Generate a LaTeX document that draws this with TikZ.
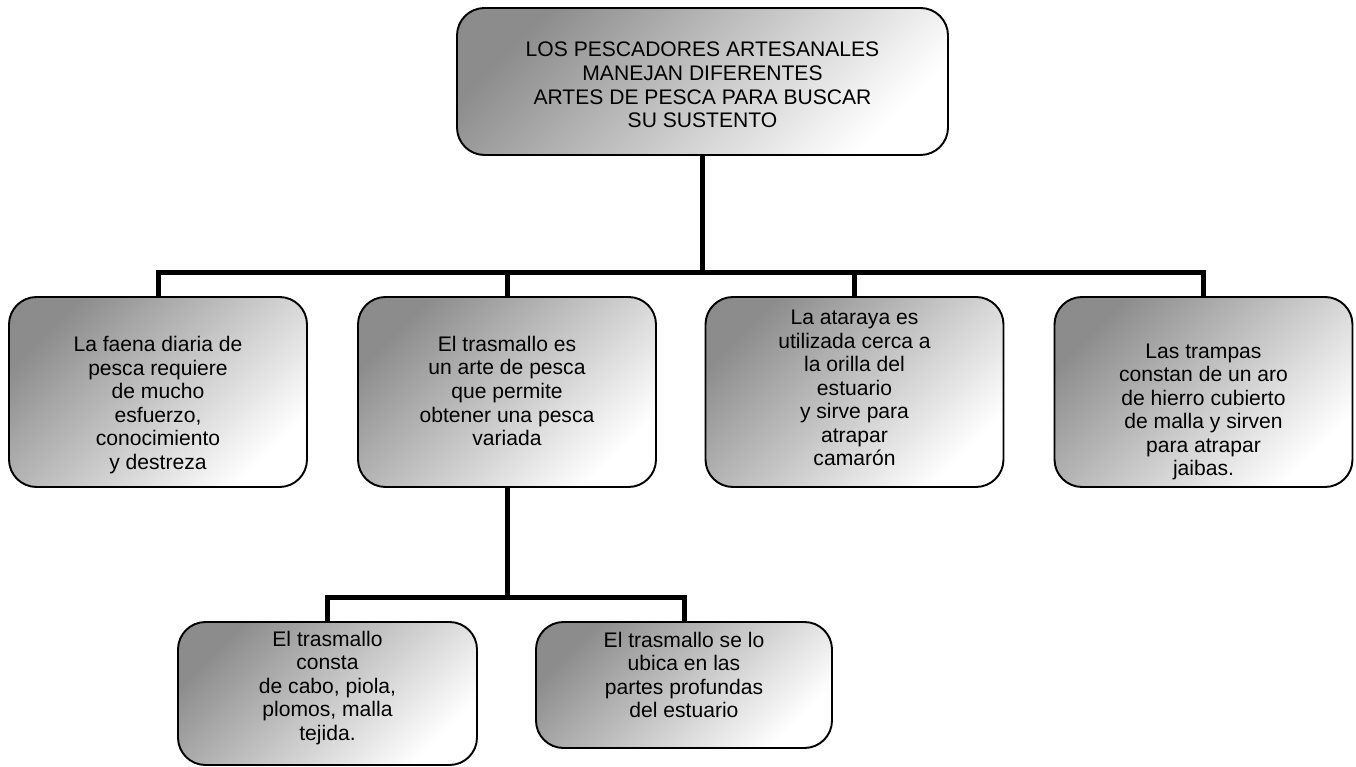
\documentclass[tikz,border=0pt]{standalone}
\usepackage{fontspec}
\setmainfont{Liberation Sans}
\usepackage{tikz}
\usetikzlibrary{positioning}

\begin{document}
\begin{tikzpicture}[
    box/.style={draw=black, line width=1.1pt, rounded corners=0.55cm,
      top color=black!45, bottom color=white, shading angle=45},
    txt/.style={align=center, font=\fontsize{12}{13.4}\selectfont},
    conn/.style={line width=0.1cm, line join=miter}]
  \useasboundingbox (0,0) rectangle (27.12,-15.34);
  % boxes
  \node[box, minimum width=9.82cm, minimum height=2.94cm] (top) at (14.05,-1.63) {};
  \foreach \n/\x in {b1/3.16, b2/10.14, b3/17.09, b4/24.07}{
    \node[box, minimum width=5.96cm, minimum height=3.8cm] (\n) at (\x,-7.84) {};
  }
  \node[box, minimum width=5.98cm, minimum height=2.86cm] (b5) at (6.55,-13.87) {};
  \node[box, minimum width=5.92cm, minimum height=2.52cm] (b6) at (13.68,-13.70) {};
  % texts
  \node[txt] (ttop) at (14.05,-1.70) {LOS PESCADORES ARTESANALES\\MANEJAN DIFERENTES\\ARTES DE PESCA PARA BUSCAR\\SU SUSTENTO};
  \node[txt] (t1) at (3.16,-8.10) {La faena diaria de\\pesca requiere\\de mucho\\esfuerzo,\\conocimiento\\y destreza};
  \node[txt] (t2) at (10.14,-7.82) {El trasmallo es\\un arte de pesca\\que permite\\obtener una pesca\\variada};
  \node[txt] (t3) at (17.09,-7.76) {La ataraya es\\utilizada cerca a\\la orilla del\\estuario\\y sirve para\\atrapar\\camarón};
  \node[txt] (t4) at (24.07,-8.24) {Las trampas\\constan de un aro\\de hierro cubierto\\de malla y sirven\\para atrapar\\jaibas.};
  \node[txt] (t5) at (6.55,-13.76) {El trasmallo\\consta\\de cabo, piola,\\plomos, malla\\tejida.};
  \node[txt] (t6) at (13.68,-13.50) {El trasmallo se lo\\ubica en las\\partes profundas\\del estuario};
  % connectors
  \coordinate (bar) at (0,-5.46);
  \coordinate (bar2) at (0,-11.96);
  \draw[conn] (top.south) -- (top.south |- bar);
  \draw[conn] (b1.north) |- (b4.north |- bar) -- (b4.north);
  \draw[conn] (b2.north) -- (b2.north |- bar);
  \draw[conn] (b3.north) -- (b3.north |- bar);
  \draw[conn] (b2.south) -- (b2.south |- bar2);
  \draw[conn] (b5.north) |- (b6.north |- bar2) -- (b6.north);
\end{tikzpicture}
\end{document}
